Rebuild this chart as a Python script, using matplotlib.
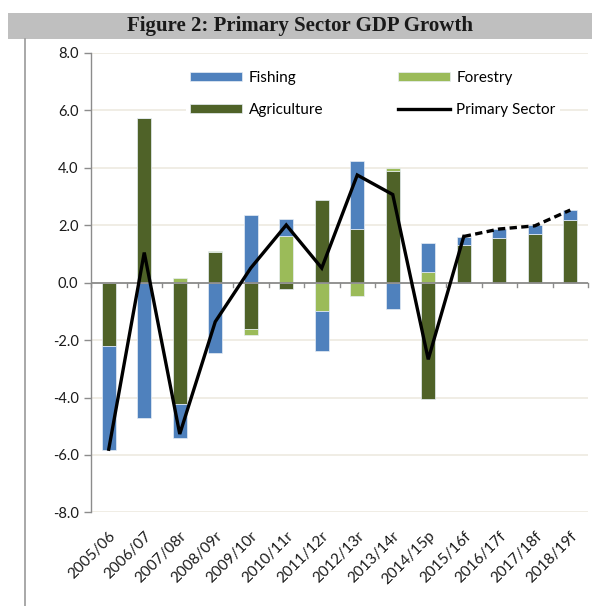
import matplotlib
matplotlib.use("Agg")
import matplotlib.pyplot as plt
import numpy as np
from matplotlib.patches import Rectangle
from matplotlib.lines import Line2D

categories = ['2005/06', '2006/07', '2007/08r', '2008/09r', '2009/10r', '2010/11r',
              '2011/12r', '2012/13r', '2013/14r', '2014/15p', '2015/16f', '2016/17f',
              '2017/18f', '2018/19f']
agriculture = [-2.20, 5.75, -4.23, 1.06, -1.61, -0.23, 2.88, 1.86, 3.89, -4.05, 1.31, 1.57, 1.69, 2.19]
forestry = [0.00, 0.00, 0.16, 0.04, -0.22, 1.63, -0.97, -0.47, 0.09, 0.37, 0.00, 0.00, 0.00, 0.00]
fishing = [-3.63, -4.70, -1.17, -2.44, 2.35, 0.59, -1.41, 2.38, -0.90, 1.01, 0.29, 0.30, 0.31, 0.34]
primary = [-5.80, 1.05, -5.27, -1.36, 0.51, 2.01, 0.51, 3.75, 3.07, -2.67, 1.61, 1.87, 1.98, 2.53]
first_forecast = 10
yticks = [-8.0, -6.0, -4.0, -2.0, 0.0, 2.0, 4.0, 6.0, 8.0]

C_FISH = '#4F81BD'
C_FOR = '#9BBB59'
C_AGR = '#4F6228'

plt.rcParams['font.family'] = ['Lato', 'DejaVu Sans']

fig = plt.figure(figsize=(5.92, 6.06), dpi=100)
W, H = 592, 606

# title bar
fig.patches.append(Rectangle((8 / W, 1 - 39 / H), 1 - 8 / W, 26 / H, transform=fig.transFigure,
                             facecolor='#BFBFBF', edgecolor='none', zorder=0))
fig.text((8 + 592) / 2 / W, 1 - 26 / H, 'Figure 2: Primary Sector GDP Growth',
         ha='center', va='center', fontsize=15, fontweight='bold',
         family='Liberation Serif', color='#1a1a1a')
# left border line
fig.add_artist(Line2D([25 / W, 25 / W], [0, 1 - 39 / H], transform=fig.transFigure,
                      color='#9A9A9A', lw=1.2))

ax = fig.add_axes([91 / W, 1 - 512.4 / H, (588 - 91) / W, (512.4 - 53) / H])

x = np.arange(len(categories))
width = 0.40
pos_base = np.zeros(len(x))
neg_base = np.zeros(len(x))
handles = {}
for name, vals, col in [('Agriculture', agriculture, C_AGR), ('Forestry', forestry, C_FOR),
                        ('Fishing', fishing, C_FISH)]:
    v = np.array(vals)
    bottoms = np.where(v >= 0, pos_base, neg_base)
    b = ax.bar(x, v, width, bottom=bottoms, color=col, edgecolor='#e8eef5', linewidth=0.5,
               label=name, zorder=2)
    handles[name] = b
    pos_base = pos_base + np.where(v > 0, v, 0)
    neg_base = neg_base + np.where(v < 0, v, 0)

ax.plot(x[:first_forecast + 1], primary[:first_forecast + 1], color='black', lw=2.4,
        zorder=4, solid_joinstyle='miter')
ax.plot(x[first_forecast:], primary[first_forecast:], color='black', lw=2.4,
        linestyle=(0, (2.2, 1.3)), zorder=4)
line_handle = Line2D([0], [0], color='black', lw=2.4)

ax.set_xlim(-0.5, len(x) - 0.5)
ax.set_ylim(-8, 8)
ax.set_yticks(yticks)
ax.set_yticklabels([f'{t:.1f}' for t in yticks], fontsize=10.5, color='#1a1a1a')
ax.yaxis.grid(True, color='#EDEAE0', lw=1.2, zorder=0)
ax.set_axisbelow(True)

for s in ['top', 'right', 'bottom']:
    ax.spines[s].set_visible(False)
ax.spines['left'].set_color('#8C8C8C')
ax.spines['left'].set_linewidth(1.0)
ax.tick_params(axis='y', direction='out', length=5, color='#8C8C8C', width=1.0, pad=4)

# zero axis line with boundary ticks
ax.axhline(0, color='#8C8C8C', lw=1.3, zorder=3)
for b in np.arange(-0.5, len(x), 1.0):
    ax.plot([b, b], [0, -0.14], color='#8C8C8C', lw=1.0, zorder=3, clip_on=False)

ax.set_xticks(x)
ax.set_xticklabels(categories, rotation=45, ha='right', rotation_mode='anchor',
                   fontsize=11, color='#1a1a1a')
ax.tick_params(axis='x', length=0, pad=12)

leg = ax.legend([handles['Fishing'], handles['Agriculture'], handles['Forestry'], line_handle],
                ['Fishing', 'Agriculture', 'Forestry', 'Primary Sector'],
                ncol=2, loc='upper left', bbox_to_anchor=(0.175, 0.988), frameon=True,
                fontsize=11, handlelength=3.4, handleheight=0.55, columnspacing=4.85,
                labelspacing=1.2, handletextpad=0.45, borderpad=0.3)
leg.get_frame().set_facecolor('white')
leg.get_frame().set_edgecolor('none')
leg.get_frame().set_alpha(1)

fig.savefig('out.png', dpi=100)
